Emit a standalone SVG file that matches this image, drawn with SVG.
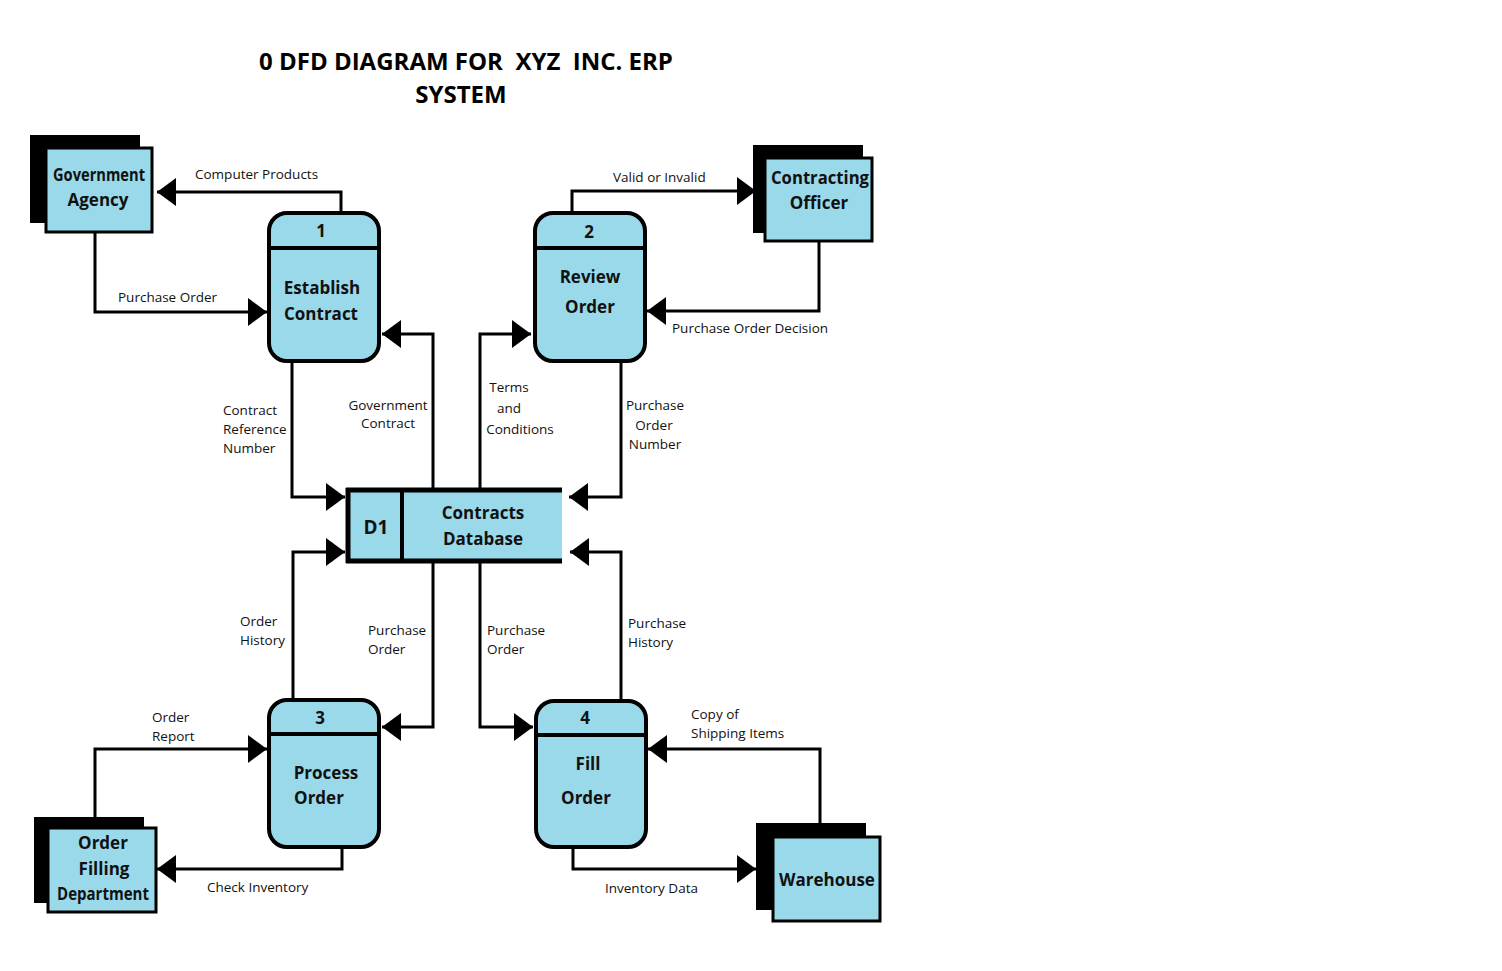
<svg xmlns="http://www.w3.org/2000/svg" width="1502" height="971" viewBox="0 0 1502 971">
<style>
.bg{fill:#ffffff}
.ent{fill:#99d9ea;stroke:#000;stroke-width:3}
.sh{fill:#000}
.proc{fill:#99d9ea;stroke:#000;stroke-width:4}
.div{stroke:#000;stroke-width:4}
.flow{fill:none;stroke:#000;stroke-width:3;marker-end:url(#arr)}
.lbl{font-family:"Open Sans","Noto Sans","Liberation Sans",sans-serif;font-size:13.5px;fill:#111}
.nm{font-family:"Open Sans","Noto Sans","Liberation Sans",sans-serif;font-size:17px;font-weight:bold;fill:#111;text-anchor:middle}
.ttl{font-family:"Open Sans","Noto Sans","Liberation Sans",sans-serif;font-size:24px;font-weight:bold;fill:#000;white-space:pre}
.c{text-anchor:middle}
</style>
<defs>
<marker id="arr" viewBox="0 0 19 28" refX="19" refY="14" markerWidth="19" markerHeight="28" markerUnits="userSpaceOnUse" orient="auto">
<path d="M0,0 L19,14 L0,28 Z" fill="#000"/>
</marker>
</defs>
<rect class="bg" x="0" y="0" width="1502" height="971"/>
<g id="title">
<text class="ttl" x="259" y="70" xml:space="preserve">0 DFD DIAGRAM FOR  XYZ  INC. ERP</text>
<text class="ttl c" x="461" y="103">SYSTEM</text>
</g>
<g id="connectors">
<path class="flow" d="M341,212 V192 H157"/>
<path class="flow" d="M95,232 V312 H267"/>
<path class="flow" d="M433,488 V334 H382"/>
<path class="flow" d="M292,362 V497 H345"/>
<path class="flow" d="M572,212 V191 H756"/>
<path class="flow" d="M819,242 V311 H647"/>
<path class="flow" d="M480,488 V334 H531"/>
<path class="flow" d="M621,362 V497 H569"/>
<path class="flow" d="M293,698 V552 H345"/>
<path class="flow" d="M433,563 V727 H382"/>
<path class="flow" d="M480,563 V727 H533"/>
<path class="flow" d="M621,699 V552 H570"/>
<path class="flow" d="M95,817 V749 H267"/>
<path class="flow" d="M342,848 V869 H157"/>
<path class="flow" d="M820,823 V749 H648"/>
<path class="flow" d="M573,848 V869 H756"/>
<text class="lbl" x="195" y="179">Computer Products</text>
<text class="lbl" x="118" y="302">Purchase Order</text>
<text class="lbl" x="613" y="182">Valid or Invalid</text>
<text class="lbl" x="672" y="333">Purchase Order Decision</text>
<text class="lbl" x="223" y="415">Contract</text>
<text class="lbl" x="223" y="434">Reference</text>
<text class="lbl" x="223" y="453">Number</text>
<text class="lbl c" x="388" y="410">Government</text>
<text class="lbl c" x="388" y="428">Contract</text>
<text class="lbl c" x="509" y="392">Terms</text>
<text class="lbl c" x="509" y="413">and</text>
<text class="lbl c" x="520" y="434">Conditions</text>
<text class="lbl c" x="655" y="410">Purchase</text>
<text class="lbl c" x="654" y="430">Order</text>
<text class="lbl c" x="655" y="449">Number</text>
<text class="lbl" x="240" y="626">Order</text>
<text class="lbl" x="240" y="645">History</text>
<text class="lbl" x="368" y="635">Purchase</text>
<text class="lbl" x="368" y="654">Order</text>
<text class="lbl" x="487" y="635">Purchase</text>
<text class="lbl" x="487" y="654">Order</text>
<text class="lbl" x="628" y="628">Purchase</text>
<text class="lbl" x="628" y="647">History</text>
<text class="lbl" x="152" y="722">Order</text>
<text class="lbl" x="152" y="741">Report</text>
<text class="lbl" x="207" y="892">Check Inventory</text>
<text class="lbl" x="691" y="719">Copy of</text>
<text class="lbl" x="691" y="738">Shipping Items</text>
<text class="lbl" x="605" y="893">Inventory Data</text>
</g>
<g id="gov-agency">
<rect class="sh" x="30" y="135" width="110" height="88"/>
<rect class="ent" x="46" y="148" width="106" height="84"/>
<text class="nm" x="99" y="181" textLength="92" lengthAdjust="spacingAndGlyphs">Government</text>
<text class="nm" x="98" y="206">Agency</text>
</g>
<g id="contracting-officer">
<rect class="sh" x="753" y="145" width="110" height="88"/>
<rect class="ent" x="765" y="158" width="107" height="83"/>
<text class="nm" x="820" y="184" textLength="98" lengthAdjust="spacingAndGlyphs">Contracting</text>
<text class="nm" x="819" y="209">Officer</text>
</g>
<g id="order-filling">
<rect class="sh" x="34" y="817" width="110" height="86"/>
<rect class="ent" x="48" y="828" width="108" height="84"/>
<text class="nm" x="103" y="849">Order</text>
<text class="nm" x="104" y="875">Filling</text>
<text class="nm" x="103" y="900" textLength="92" lengthAdjust="spacingAndGlyphs">Department</text>
</g>
<g id="warehouse">
<rect class="sh" x="756" y="823" width="110" height="87"/>
<rect class="ent" x="773" y="837" width="107" height="84"/>
<text class="nm" x="827" y="886">Warehouse</text>
</g>
<g id="p1">
<rect class="proc" x="269" y="213" width="110" height="148" rx="18"/>
<line class="div" x1="269" y1="248" x2="379" y2="248"/>
<text class="nm" x="321" y="237">1</text>
<text class="nm" x="322" y="294">Establish</text>
<text class="nm" x="321" y="320">Contract</text>
</g>
<g id="p2">
<rect class="proc" x="535" y="213" width="110" height="148" rx="18"/>
<line class="div" x1="535" y1="248" x2="645" y2="248"/>
<text class="nm" x="589" y="238">2</text>
<text class="nm" x="590" y="283">Review</text>
<text class="nm" x="590" y="313">Order</text>
</g>
<g id="p3">
<rect class="proc" x="269" y="700" width="110" height="147" rx="18"/>
<line class="div" x1="269" y1="734" x2="379" y2="734"/>
<text class="nm" x="320" y="724">3</text>
<text class="nm" x="326" y="779">Process</text>
<text class="nm" x="319" y="804">Order</text>
</g>
<g id="p4">
<rect class="proc" x="536" y="701" width="110" height="146" rx="18"/>
<line class="div" x1="536" y1="735" x2="646" y2="735"/>
<text class="nm" x="585" y="724">4</text>
<text class="nm" x="588" y="770">Fill</text>
<text class="nm" x="586" y="804">Order</text>
</g>
<g id="d1">
<rect x="346" y="489" width="216" height="73" fill="#99d9ea"/>
<line x1="346" y1="490" x2="562" y2="490" stroke="#000" stroke-width="5"/>
<line x1="346" y1="561" x2="562" y2="561" stroke="#000" stroke-width="5"/>
<line x1="348" y1="488" x2="348" y2="563" stroke="#000" stroke-width="5"/>
<line x1="402" y1="490" x2="402" y2="561" stroke="#000" stroke-width="4"/>
<text class="nm" x="376" y="534" style="font-size:19px">D1</text>
<text class="nm" x="483" y="519">Contracts</text>
<text class="nm" x="483" y="545">Database</text>
</g>
</svg>
